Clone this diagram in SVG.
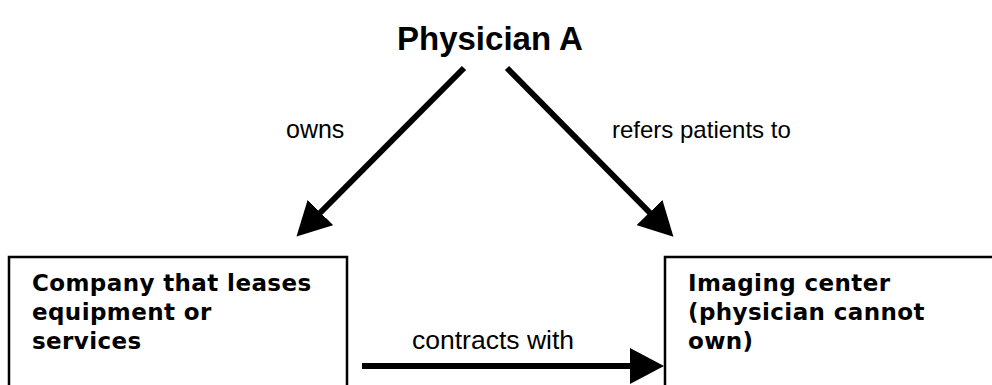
<svg xmlns="http://www.w3.org/2000/svg" width="992" height="385" viewBox="0 0 992 385">
<defs>
<style>
.title{font-family:"Liberation Sans",Arial,sans-serif;font-weight:bold;font-size:33px;fill:#000}
.box{fill:#fff;stroke:#000;stroke-width:2.5}
.bt{font-family:"DejaVu Sans",Verdana,sans-serif;font-weight:bold;font-size:23px;letter-spacing:0.4px;fill:#000}
.lbl{font-family:"Liberation Sans",Arial,sans-serif;font-size:24px;fill:#000}
.conn{stroke:#000;stroke-width:6;fill:none;marker-end:url(#ah)}
</style>
<marker id="ah" markerUnits="userSpaceOnUse" markerWidth="36" markerHeight="36" refX="12" refY="18" orient="auto" viewBox="0 0 36 36">
<path d="M0,0 L34,18 L0,36 z" fill="#000"/>
</marker>
</defs>
<rect width="992" height="385" fill="#fff"/>
<g id="physician-a">
<text class="title" x="397" y="50">Physician A</text>
</g>
<g id="company">
<rect class="box" x="9" y="257" width="338" height="140"/>
<text class="bt" x="32" y="291">Company that leases</text>
<text class="bt" x="32" y="320">equipment or</text>
<text class="bt" x="32" y="349">services</text>
</g>
<g id="imaging-center">
<rect class="box" x="665" y="257" width="340" height="140"/>
<text class="bt" x="688" y="291">Imaging center</text>
<text class="bt" x="688" y="320">(physician cannot</text>
<text class="bt" x="688" y="349">own)</text>
</g>
<g id="connectors">
<line class="conn" x1="464" y1="68" x2="312" y2="221"/>
<line class="conn" x1="507" y1="68" x2="658" y2="221"/>
<line class="conn" x1="362" y1="366" x2="642" y2="366"/>
<text class="lbl" x="286" y="138" style="font-size:25px">owns</text>
<text class="lbl" x="612" y="138">refers patients to</text>
<text class="lbl" x="412" y="349" style="font-size:26.5px">contracts with</text>
</g>
</svg>
